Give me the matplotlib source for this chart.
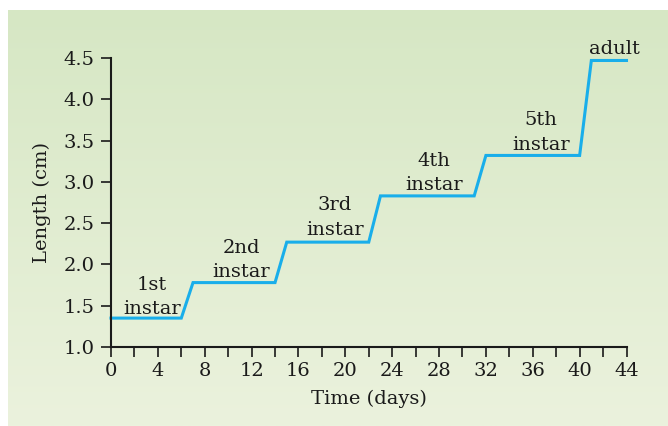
import numpy as np
import matplotlib.pyplot as plt

# Step-like growth of body length through instars
days = [0, 6, 7, 14, 15, 22, 23, 31, 32, 40, 41, 44]
length = [1.35, 1.35, 1.78, 1.78, 2.27, 2.27, 2.83, 2.83, 3.32, 3.32, 4.47, 4.47]

stage_labels = ["1st\ninstar", "2nd\ninstar", "3rd\ninstar", "4th\ninstar", "5th\ninstar", "adult"]
stage_x = [3.5, 11.1, 19.1, 27.6, 36.7, 43.0]
stage_y = [1.40, 1.85, 2.36, 2.90, 3.39, 4.55]

x_ticks = list(range(0, 45, 2))
x_labels = [str(t) if t % 4 == 0 else "" for t in x_ticks]
y_ticks = [1.0, 1.5, 2.0, 2.5, 3.0, 3.5, 4.0, 4.5]

plt.rcParams['font.family'] = ['DejaVu Serif']
fs = 14

fig = plt.figure(figsize=(6.68, 4.26), dpi=100)

# green gradient panel behind the chart
bg = fig.add_axes([8 / 668, 0.0, 660 / 668, 1 - 9.5 / 426], zorder=0)
top = np.array([214, 231, 196]) / 255
bottom = np.array([235, 242, 221]) / 255
grad = np.linspace(0, 1, 256)[:, None, None]
img = top * (1 - grad) + bottom * grad
bg.imshow(img, aspect='auto', extent=[0, 1, 0, 1])
bg.axis('off')

ax = fig.add_axes([111 / 668, 1 - 347 / 426, (626.5 - 111) / 668, (347 - 58) / 426], zorder=1)
ax.patch.set_alpha(0)

ax.plot(days, length, color='#19aeea', linewidth=2.2, clip_on=False, solid_joinstyle='miter')

for lab, x, y in zip(stage_labels, stage_x, stage_y):
    ax.text(x, y, lab, ha='center', va='baseline', fontsize=fs,
            color='#1a1a1a', linespacing=1.45, multialignment='center')

ax.set_xlim(0, 44)
ax.set_ylim(1.0, 4.5)
ax.set_xticks(x_ticks)
ax.set_xticklabels(x_labels)
ax.set_yticks(y_ticks)
ax.set_yticklabels([f"{v:.1f}" for v in y_ticks])

for s in ['top', 'right']:
    ax.spines[s].set_visible(False)
for s in ['left', 'bottom']:
    ax.spines[s].set_linewidth(1.5)
    ax.spines[s].set_color('#1a1a1a')

ax.tick_params(axis='x', length=7, width=1.2, pad=4, labelsize=fs, colors='#1a1a1a')
ax.tick_params(axis='y', length=7, width=1.2, pad=5, labelsize=fs, colors='#1a1a1a')

ax.set_xlabel("Time (days)", fontsize=fs, color='#1a1a1a', labelpad=7)
ax.set_ylabel("Length (cm)", fontsize=fs, color='#1a1a1a', labelpad=9)

fig.savefig("out.png", dpi=100)
